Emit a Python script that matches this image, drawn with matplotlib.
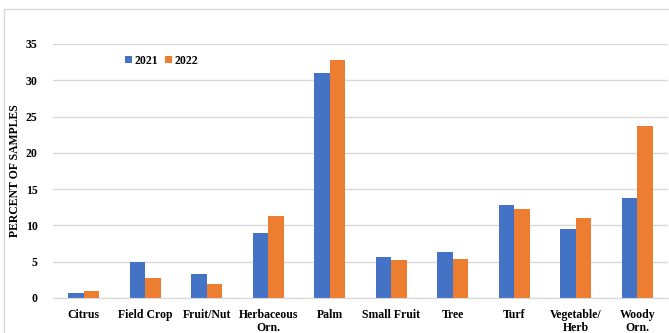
import numpy as np
import matplotlib.pyplot as plt
from matplotlib.patches import Rectangle

categories = ["Citrus", "Field Crop", "Fruit/Nut", "Herbaceous\nOrn.", "Palm",
              "Small Fruit", "Tree", "Turf", "Vegetable/\nHerb", "Woody\nOrn."]
pct_2021 = [0.7, 4.9, 3.3, 8.9, 31.0, 5.7, 6.3, 12.8, 9.5, 13.8]
pct_2022 = [0.9, 2.8, 1.9, 11.3, 32.8, 5.3, 5.4, 12.2, 11.0, 23.7]

plt.rcParams['font.family'] = ['Liberation Serif', 'DejaVu Serif']

fig = plt.figure(figsize=(6.69, 3.33), dpi=100)
W, H = 669, 333
# light frame around the chart area
fig.patches.append(Rectangle((4 / W, -0.1), 1.2, 1 - 9 / H + 0.1, transform=fig.transFigure,
                             fill=False, edgecolor="#d9d9d9", linewidth=1))

ax = fig.add_axes([53 / W, 1 - 298 / H, (668 - 53) / W, (298 - 44) / H])
x = np.arange(len(categories))
w = 0.25
ax.bar(x - w / 2, pct_2021, w, color="#4472c4", label="2021")
ax.bar(x + w / 2, pct_2022, w, color="#ed7d31", label="2022")

ax.set_ylim(0, 35)
ax.set_xlim(-0.5, len(categories) - 0.5)
ax.set_yticks(range(0, 36, 5))
ax.yaxis.grid(True, color="#d9d9d9", linewidth=1)
ax.set_axisbelow(True)
for s in ["top", "right", "left"]:
    ax.spines[s].set_visible(False)
ax.spines["bottom"].set_color("#d9d9d9")
ax.tick_params(length=0, labelsize=8.5)
ax.tick_params(axis="y", pad=11)
ax.tick_params(axis="x", pad=8)
ax.set_xticks(x)
ax.set_xticklabels(categories, fontweight="bold", fontsize=8.5, linespacing=1.1)
for t in ax.get_yticklabels():
    t.set_fontweight("bold")
ax.set_ylabel("PERCENT OF SAMPLES", fontweight="bold", fontsize=8.5)
ax.yaxis.set_label_coords(-0.052, 0.5)

ax.legend(loc="upper left", bbox_to_anchor=(0.1, 1.0), ncol=2, frameon=False,
          prop={"weight": "bold", "size": 8.5}, handlelength=0.55, handleheight=0.55,
          handletextpad=0.25, columnspacing=0.6)

fig.savefig("out.png", dpi=100)
